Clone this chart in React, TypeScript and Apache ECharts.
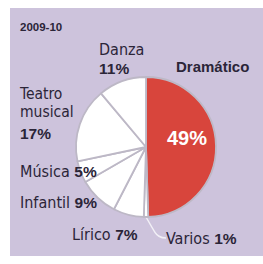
import React, { useEffect, useRef } from "react";
import * as echarts from "echarts";

const title = "2009-10";
const categories = ["Dramático", "Varios", "Lírico", "Infantil", "Música", "Teatro musical", "Danza"];
const values = [49, 1, 7, 9, 5, 17, 11];

const NARROW = "'Liberation Sans Narrow', 'DejaVu Sans Condensed', sans-serif";
const BOLD = "'Liberation Sans', Arial, sans-serif";
const TEXT = "#2b2538";
const RED = "#d8453c";

// label anchor layout (style only)
const labelPos: Record<number, { x: number; y: number }> = {
  0: { x: 176, y: 66 },
  1: { x: 166, y: 238 },
  2: { x: 72, y: 234 },
  3: { x: 20, y: 202.5 },
  4: { x: 20, y: 171 },
  5: { x: 20, y: 115 },
  6: { x: 99, y: 59 },
};

export default function App() {
  const ref = useRef<HTMLDivElement>(null);
  useEffect(() => {
    if (!ref.current) return;
    const chart = echarts.init(ref.current, undefined, { renderer: "svg" });
    const mainData = categories.map((name, i) => {
      const isRed = i === 0;
      const words = name.split(" ");
      let fmt: string;
      if (isRed) fmt = `{n|${name}}`;
      else if (words.length > 1) fmt = `${words.map((w) => `{t|${w}}`).join("\n")}\n{vb|${values[i]}%}`;
      else if (i === 6) fmt = `{d|${name}}\n{dv|${values[i]}%}`;
      else fmt = `{r|${name} }{v|${values[i]}%}`;
      return {
        name,
        value: values[i],
        itemStyle: { color: isRed ? RED : "#ffffff" },
        label: { formatter: fmt },
        labelLine: i === 1
          ? { show: true, length: 9, length2: 8, smooth: 0.5, lineStyle: { color: "#f2f0f6", width: 1.5 } }
          : { show: false },
      };
    });
    const overlayData = categories.map((name, i) => ({
      name,
      value: values[i],
      label: i === 0 ? { show: true, formatter: `${values[i]}%` } : { show: false },
    }));
    chart.setOption({
      animation: false,
      backgroundColor: "#ffffff",
      graphic: [
        { type: "rect", shape: { x: 10, y: 8, width: 253, height: 248 }, style: { fill: "#cdc3dc" }, z: -10 },
      ],
      title: {
        text: title,
        left: 15,
        top: 16,
        textStyle: { fontFamily: BOLD, fontSize: 11.5, fontWeight: "bold", color: TEXT },
      },
      series: [
        {
          type: "pie",
          center: [146, 147],
          radius: [0, 70],
          startAngle: 90,
          clockwise: true,
          avoidLabelOverlap: false,
          itemStyle: { borderColor: "#bdb8c6", borderWidth: 1.8 },
          label: {
            show: true,
            position: "outside",
            fontFamily: NARROW,
            fontSize: 16,
            color: TEXT,
            rich: {
              r: { fontFamily: NARROW, fontSize: 16, color: TEXT },
              v: { fontFamily: BOLD, fontSize: 15.5, fontWeight: "bold", color: TEXT },
              t: { fontFamily: NARROW, fontSize: 15.5, color: TEXT, lineHeight: 18 },
              vb: { fontFamily: BOLD, fontSize: 15.5, fontWeight: "bold", color: TEXT, lineHeight: 24 },
              d: { fontFamily: NARROW, fontSize: 16, color: TEXT, lineHeight: 19 },
              dv: { fontFamily: BOLD, fontSize: 15.5, fontWeight: "bold", color: TEXT, lineHeight: 19 },
              n: { fontFamily: BOLD, fontSize: 15, fontWeight: "bold", color: TEXT },
            },
          },
          labelLayout: (p: any) => {
            const pos = labelPos[p.dataIndex];
            return { x: pos.x, y: pos.y, align: "left", verticalAlign: "middle" };
          },
          data: mainData,
        },
        {
          type: "pie",
          center: [146, 147],
          radius: [0, 70],
          startAngle: 90,
          clockwise: true,
          silent: true,
          itemStyle: { color: "rgba(0,0,0,0)", borderWidth: 0 },
          label: {
            position: "inside",
            fontFamily: BOLD,
            fontSize: 20,
            fontWeight: "bold",
            color: "#ffffff",
          },
          labelLayout: (p: any) =>
            p.dataIndex === 0 ? { x: 187, y: 138, align: "center", verticalAlign: "middle" } : {},
          labelLine: { show: false },
          data: overlayData,
        },
      ],
    });
    return () => chart.dispose();
  }, []);
  return <div ref={ref} style={{ position: "fixed", left: 0, top: 0, width: 263, height: 264 }} />;
}
